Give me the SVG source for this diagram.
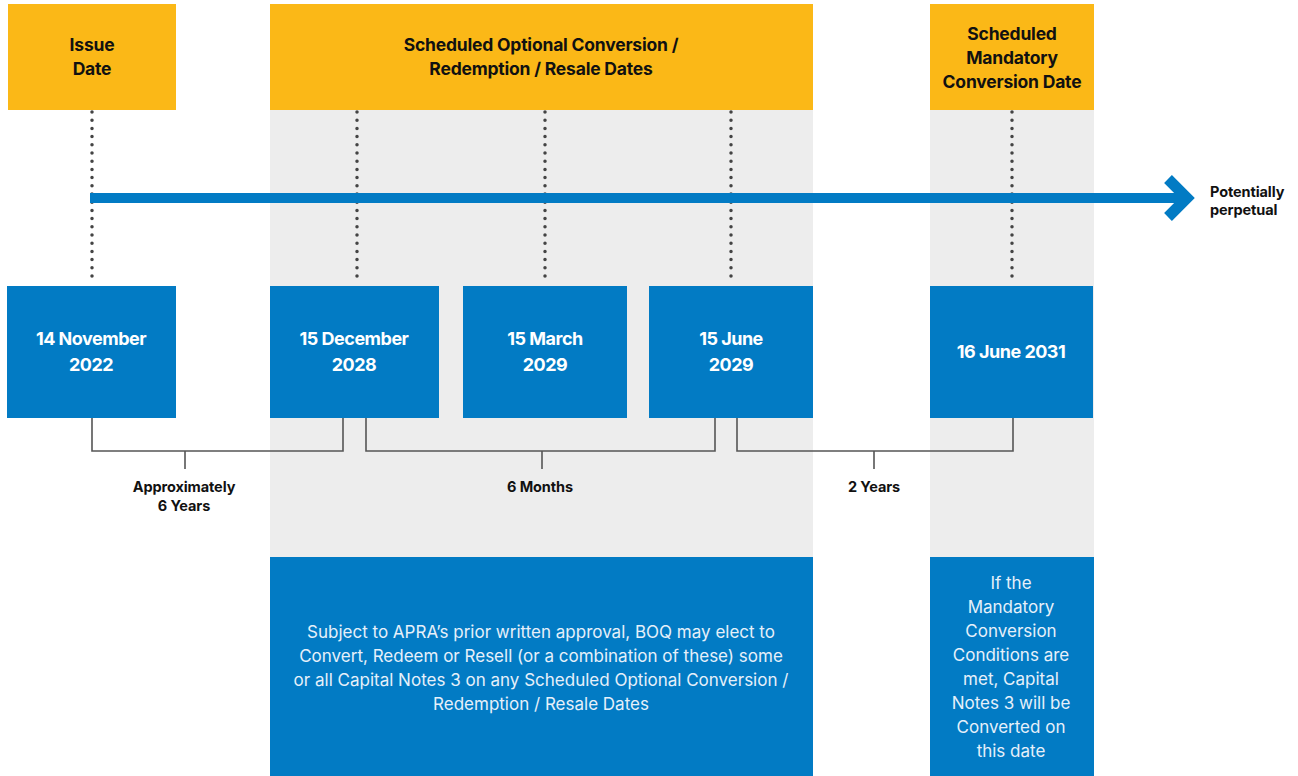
<svg xmlns="http://www.w3.org/2000/svg" width="1298" height="776" viewBox="0 0 1298 776">
<style>
.yel{fill:#FBB817}
.blu{fill:#027BC4}
.gry{fill:#EDEDED}
.hd{font-family:Inter,"Liberation Sans",sans-serif;font-weight:700;font-size:17.5px;fill:#111;text-anchor:middle;letter-spacing:-0.2px}
.dt{font-family:Inter,"Liberation Sans",sans-serif;font-weight:700;font-size:18px;fill:#fff;text-anchor:middle;letter-spacing:-0.5px}
.bd{font-family:Inter,"Liberation Sans",sans-serif;font-weight:400;font-size:17px;fill:#E6F0FA;text-anchor:middle;letter-spacing:0px}
.lb{font-family:Inter,"Liberation Sans",sans-serif;font-weight:700;font-size:14.5px;fill:#111;text-anchor:middle;letter-spacing:-0.1px}
.dot{stroke:#444;stroke-width:3.5;stroke-linecap:round;stroke-dasharray:0 8.2;fill:none}
.br{stroke:#555;stroke-width:1.6;fill:none}
</style>
<rect class="gry" x="270" y="110" width="543" height="447"/>
<rect class="gry" x="930" y="110" width="164" height="447"/>
<g id="connectors">
<line class="dot" x1="92" y1="112" x2="92" y2="284"/>
<line class="dot" x1="357" y1="112" x2="357" y2="284"/>
<line class="dot" x1="545" y1="112" x2="545" y2="284"/>
<line class="dot" x1="731" y1="112" x2="731" y2="284"/>
<line class="dot" x1="1012" y1="112" x2="1012" y2="284"/>
<line x1="90" y1="198" x2="1186" y2="198" stroke="#027BC4" stroke-width="10"/>
<polyline points="1168,179 1187,198 1168,217" fill="none" stroke="#027BC4" stroke-width="11"/>
<polyline class="br" points="92,418 92,451 343,451 343,418"/>
<line class="br" x1="185" y1="451" x2="185" y2="469"/>
<polyline class="br" points="366,418 366,451 715,451 715,418"/>
<line class="br" x1="542" y1="451" x2="542" y2="469"/>
<polyline class="br" points="737,418 737,451 1013,451 1013,418"/>
<line class="br" x1="874" y1="451" x2="874" y2="469"/>
</g>
<g id="issue-header"><rect class="yel" x="8" y="4" width="168" height="106"/><text class="hd" x="92" y="51">Issue</text><text class="hd" x="92" y="75">Date</text></g>
<g id="optional-header"><rect class="yel" x="270" y="4" width="543" height="106"/><text class="hd" x="541" y="51">Scheduled Optional Conversion /</text><text class="hd" x="541" y="75">Redemption / Resale Dates</text></g>
<g id="mandatory-header"><rect class="yel" x="930" y="4" width="164" height="106"/><text class="hd" x="1012" y="40">Scheduled</text><text class="hd" x="1012" y="64">Mandatory</text><text class="hd" x="1012" y="88">Conversion Date</text></g>
<g id="d1"><rect class="blu" x="7" y="286" width="169" height="132"/><text class="dt" x="91" y="345">14 November</text><text class="dt" x="91" y="371">2022</text></g>
<g id="d2"><rect class="blu" x="270" y="286" width="169" height="132"/><text class="dt" x="354" y="345">15 December</text><text class="dt" x="354" y="371">2028</text></g>
<g id="d3"><rect class="blu" x="463" y="286" width="164" height="132"/><text class="dt" x="545" y="345">15 March</text><text class="dt" x="545" y="371">2029</text></g>
<g id="d4"><rect class="blu" x="649" y="286" width="164" height="132"/><text class="dt" x="731" y="345">15 June</text><text class="dt" x="731" y="371">2029</text></g>
<g id="d5"><rect class="blu" x="930" y="286" width="163" height="132"/><text class="dt" x="1011" y="358">16 June 2031</text></g>
<g id="perp"><text class="lb" x="1210" y="197" style="text-anchor:start">Potentially</text><text class="lb" x="1210" y="215" style="text-anchor:start">perpetual</text></g>
<g id="l1"><text class="lb" x="184" y="492">Approximately</text><text class="lb" x="184" y="511">6 Years</text></g>
<g id="l2"><text class="lb" x="540" y="492">6 Months</text></g>
<g id="l3"><text class="lb" x="874" y="492">2 Years</text></g>
<g id="optional-note"><rect class="blu" x="270" y="557" width="543" height="219"/>
<text class="bd" x="541" y="638">Subject to APRA’s prior written approval, BOQ may elect to</text>
<text class="bd" x="541" y="662">Convert, Redeem or Resell (or a combination of these) some</text>
<text class="bd" x="541" y="686">or all Capital Notes 3 on any Scheduled Optional Conversion /</text>
<text class="bd" x="541" y="710">Redemption / Resale Dates</text></g>
<g id="mandatory-note"><rect class="blu" x="930" y="557" width="164" height="219"/>
<text class="bd" x="1011" y="589">If the</text>
<text class="bd" x="1011" y="613">Mandatory</text>
<text class="bd" x="1011" y="637">Conversion</text>
<text class="bd" x="1011" y="661">Conditions are</text>
<text class="bd" x="1011" y="685">met, Capital</text>
<text class="bd" x="1011" y="709">Notes 3 will be</text>
<text class="bd" x="1011" y="733">Converted on</text>
<text class="bd" x="1011" y="757">this date</text></g>
</svg>
